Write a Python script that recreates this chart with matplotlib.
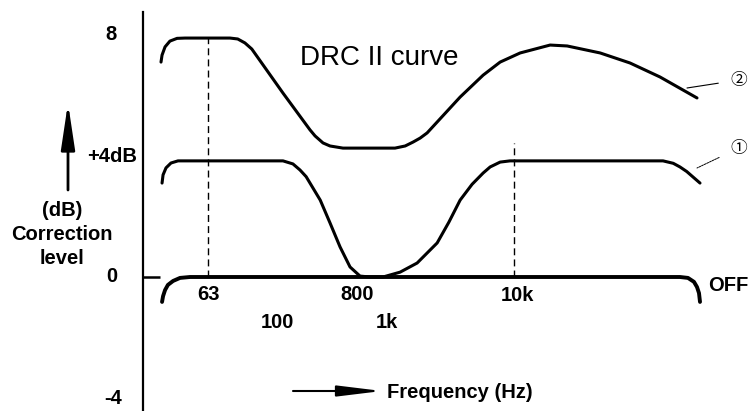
import matplotlib
matplotlib.use("Agg")
import matplotlib.pyplot as plt
from matplotlib.ticker import NullLocator

# curve (2): 8 dB boost shape
freq2 = [28.9, 29.4, 30.9, 33.5, 37.7, 43.0, 90.6, 103, 116, 130, 218, 341, 371, 423, 475,
         589, 1394, 1650, 1883, 2115, 2374, 4102, 6003, 7958, 11085, 18210, 24140, 41710,
         68400, 112400, 207500]
db2 = [7.07, 7.30, 7.57, 7.76, 7.85, 7.86, 7.86, 7.83, 7.70, 7.50, 6.05, 4.84, 4.64, 4.41, 4.31,
       4.24, 4.24, 4.31, 4.44, 4.57, 4.74, 5.92, 6.64, 7.07, 7.37, 7.63, 7.60, 7.37,
       7.04, 6.58, 5.89]

# curve (1): +4 dB shape
freq1 = [29.4, 29.9, 31.4, 34.1, 38.3, 218, 257, 289, 320, 341, 404, 475, 561, 662, 781, 921,
         1143, 1518, 2012, 2803, 3400, 4102, 5000, 6003, 6743, 7958, 9370, 118200, 140000,
         156500, 175000, 194200, 218100]
db1 = [3.09, 3.36, 3.59, 3.75, 3.82, 3.82, 3.72, 3.52, 3.30, 3.09, 2.53, 1.78, 0.99, 0.33, 0.03,
       0.0, 0.0, 0.16, 0.46, 1.12, 1.80, 2.53, 3.05, 3.42, 3.62, 3.78, 3.82, 3.82, 3.74,
       3.62, 3.47, 3.29, 3.09]

# OFF (flat)
freq_off = [29.4, 29.9, 30.9, 32.4, 35.3, 39.6, 46.7, 156500, 178700, 197400, 207500, 214500, 218100]
db_off = [-0.82, -0.63, -0.43, -0.26, -0.13, -0.03, 0.0, 0.0, -0.03, -0.16, -0.33, -0.53, -0.82]

# dashed guide lines
guide_freq = [63, 10000]
guide_top = [7.86, 4.41]

ytick_labels = ["8", "+4dB", "0", "-4"]

W, H = 748, 411
fig = plt.figure(figsize=(W / 100, H / 100), dpi=100)
ax = fig.add_axes([0, 0, 1, 1])
ax.set_xscale("log")
ax.set_xlim(2.007, 483000)
ax.set_ylim(-4.408, 9.112)

for s in ["top", "right", "bottom"]:
    ax.spines[s].set_visible(False)
ax.spines["left"].set_position(("data", 21.4))
ax.spines["left"].set_bounds(-4.41, 8.72)
ax.spines["left"].set_linewidth(1.6)

ax.xaxis.set_major_locator(NullLocator())
ax.xaxis.set_minor_locator(NullLocator())
ax.set_yticks([0])
ax.set_yticklabels([""])
ax.tick_params(axis="y", direction="in", length=12, width=1.8)

line_kw = dict(color="black", solid_capstyle="round", solid_joinstyle="round")
ax.plot(freq2, db2, lw=2.2, **line_kw)
ax.plot(freq1, db1, lw=2.2, **line_kw)
ax.plot(freq_off, db_off, lw=2.8, **line_kw)
ax.vlines(guide_freq, 0, guide_top, colors="black", lw=1.0, linestyles=(0, (5, 3)))

font = "Liberation Sans"


def txt(px, py, s, **kw):
    kw.setdefault("family", font)
    ax.text(px / W, 1 - py / H, s, transform=ax.transAxes, **kw)


bold = dict(fontsize=14.5, fontweight="bold", va="center")
txt(111, 34, ytick_labels[0], ha="center", **bold)
txt(137, 156, ytick_labels[1], ha="right", **bold)
txt(112, 277, ytick_labels[2], ha="center", **bold)
txt(113, 398, ytick_labels[3], ha="center", **bold)

txt(62, 210, "(dB)", ha="center", **bold)
txt(62, 234, "Correction", ha="center", **bold)
txt(62, 258, "level", ha="center", **bold)

txt(208, 294, "63", ha="center", **bold)
txt(357, 294, "800", ha="center", **bold)
txt(517, 295, "10k", ha="center", **bold)
txt(277, 322, "100", ha="center", **bold)
txt(387, 322, "1k", ha="center", **bold)
txt(708, 285, "OFF", ha="left", **bold)

txt(379, 58, "DRC II curve", ha="center", va="center", fontsize=20)
txt(387, 392, "Frequency (Hz)", ha="left", **bold)

# axis arrows
ax.annotate("", xy=(68 / W, 1 - 103 / H), xytext=(68 / W, 1 - 190 / H),
            xycoords="axes fraction",
            arrowprops=dict(arrowstyle="-|>,head_length=2.0,head_width=0.3",
                            lw=2, color="black", mutation_scale=14, shrinkA=0, shrinkB=0))
ax.annotate("", xy=(382 / W, 1 - 391 / H), xytext=(293 / W, 1 - 391 / H),
            xycoords="axes fraction",
            arrowprops=dict(arrowstyle="-|>,head_length=2.7,head_width=0.33",
                            lw=1.5, color="black", mutation_scale=10, shrinkA=0, shrinkB=0))

# curve markers
circ = ["Noto Sans CJK JP", "DejaVu Sans"]
ax.annotate("②", xy=(687 / W, 1 - 88 / H), xytext=(739 / W, 1 - 80 / H),
            xycoords="axes fraction", ha="center", va="center", fontsize=12, family=circ,
            arrowprops=dict(arrowstyle="-", lw=0.8, color="black", shrinkA=7, shrinkB=0))
ax.annotate("①", xy=(697 / W, 1 - 168 / H), xytext=(739 / W, 1 - 148 / H),
            xycoords="axes fraction", ha="center", va="center", fontsize=12, family=circ,
            arrowprops=dict(arrowstyle="-", lw=0.7, color="black", ls=(0, (2, 1)),
                            shrinkA=7, shrinkB=0))

fig.savefig("out.png", dpi=100)
